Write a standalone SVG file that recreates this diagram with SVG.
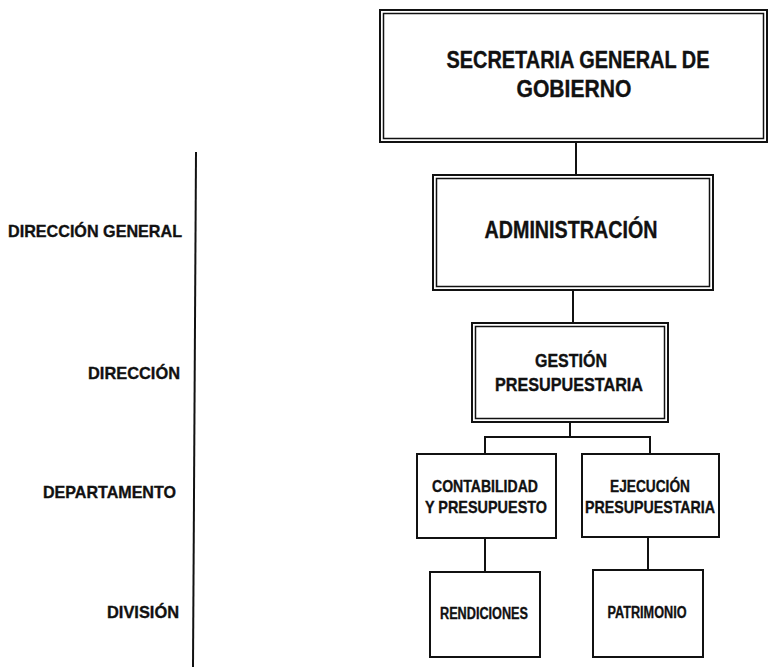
<svg xmlns="http://www.w3.org/2000/svg" width="770" height="667" viewBox="0 0 770 667">
<style>
.bg{fill:#fff}
.box{fill:#fff;stroke:#111;stroke-width:2}
.in{fill:none;stroke:#111;stroke-width:1.5}
.t{font-family:"Liberation Sans",Arial,sans-serif;font-weight:bold;fill:#111;stroke:#111;stroke-width:0.35}
.c{text-anchor:middle}
.r{text-anchor:end}
.ln{stroke:#111;stroke-width:2;fill:none}
</style>
<rect class="bg" x="0" y="0" width="770" height="667"/>
<g id="connectors">
<line class="ln" x1="196" y1="152" x2="193" y2="667"/>
<line class="ln" x1="576" y1="142" x2="576" y2="176"/>
<line class="ln" x1="573" y1="290" x2="573" y2="324"/>
<polyline class="ln" points="570,422 570,437"/>
<polyline class="ln" points="485,454 485,437 650,437 650,454"/>
<line class="ln" x1="485" y1="538" x2="485" y2="572"/>
<line class="ln" x1="648" y1="538" x2="648" y2="570"/>
</g>
<g id="levels">
<text class="t r" x="182" y="237" font-size="17" textLength="174" lengthAdjust="spacingAndGlyphs">DIRECCIÓN GENERAL</text>
<text class="t r" x="180" y="379" font-size="17" textLength="92" lengthAdjust="spacingAndGlyphs">DIRECCIÓN</text>
<text class="t r" x="176" y="498" font-size="17" textLength="133" lengthAdjust="spacingAndGlyphs">DEPARTAMENTO</text>
<text class="t r" x="179" y="618" font-size="17" textLength="72" lengthAdjust="spacingAndGlyphs">DIVISIÓN</text>
</g>
<g id="secretaria">
<rect class="box" x="380" y="10" width="387" height="132" stroke-width="2.5"/>
<rect class="in" x="383.5" y="13.5" width="380" height="125"/>
<text class="t c" x="578" y="68" font-size="23" textLength="263" lengthAdjust="spacingAndGlyphs">SECRETARIA GENERAL DE</text>
<text class="t c" x="574" y="97" font-size="23" textLength="115" lengthAdjust="spacingAndGlyphs">GOBIERNO</text>
</g>
<g id="administracion">
<rect class="box" x="433" y="175" width="280" height="115" stroke-width="2.5"/>
<rect class="in" x="436.5" y="178.5" width="273" height="108"/>
<text class="t c" x="571" y="238" font-size="23" textLength="173" lengthAdjust="spacingAndGlyphs">ADMINISTRACIÓN</text>
</g>
<g id="gestion">
<rect class="box" x="472" y="323" width="196" height="99" stroke-width="2.5"/>
<rect class="in" x="475.5" y="326.5" width="189" height="92"/>
<text class="t c" x="571" y="367" font-size="19" textLength="72" lengthAdjust="spacingAndGlyphs">GESTIÓN</text>
<text class="t c" x="569" y="391" font-size="19" textLength="148" lengthAdjust="spacingAndGlyphs">PRESUPUESTARIA</text>
</g>
<g id="contabilidad">
<rect class="box" x="417" y="454" width="139" height="84"/>
<text class="t c" x="485" y="492" font-size="17" textLength="106" lengthAdjust="spacingAndGlyphs">CONTABILIDAD</text>
<text class="t c" x="486" y="513" font-size="17" textLength="122" lengthAdjust="spacingAndGlyphs">Y PRESUPUESTO</text>
</g>
<g id="ejecucion">
<rect class="box" x="582" y="454" width="137" height="83"/>
<text class="t c" x="650" y="492" font-size="17" textLength="80" lengthAdjust="spacingAndGlyphs">EJECUCIÓN</text>
<text class="t c" x="650" y="513" font-size="17" textLength="130" lengthAdjust="spacingAndGlyphs">PRESUPUESTARIA</text>
</g>
<g id="rendiciones">
<rect class="box" x="430" y="572" width="110" height="85"/>
<text class="t c" x="484" y="619" font-size="16" textLength="88" lengthAdjust="spacingAndGlyphs">RENDICIONES</text>
</g>
<g id="patrimonio">
<rect class="box" x="593" y="570" width="110" height="87"/>
<text class="t c" x="647" y="618" font-size="16" textLength="79" lengthAdjust="spacingAndGlyphs">PATRIMONIO</text>
</g>
</svg>
